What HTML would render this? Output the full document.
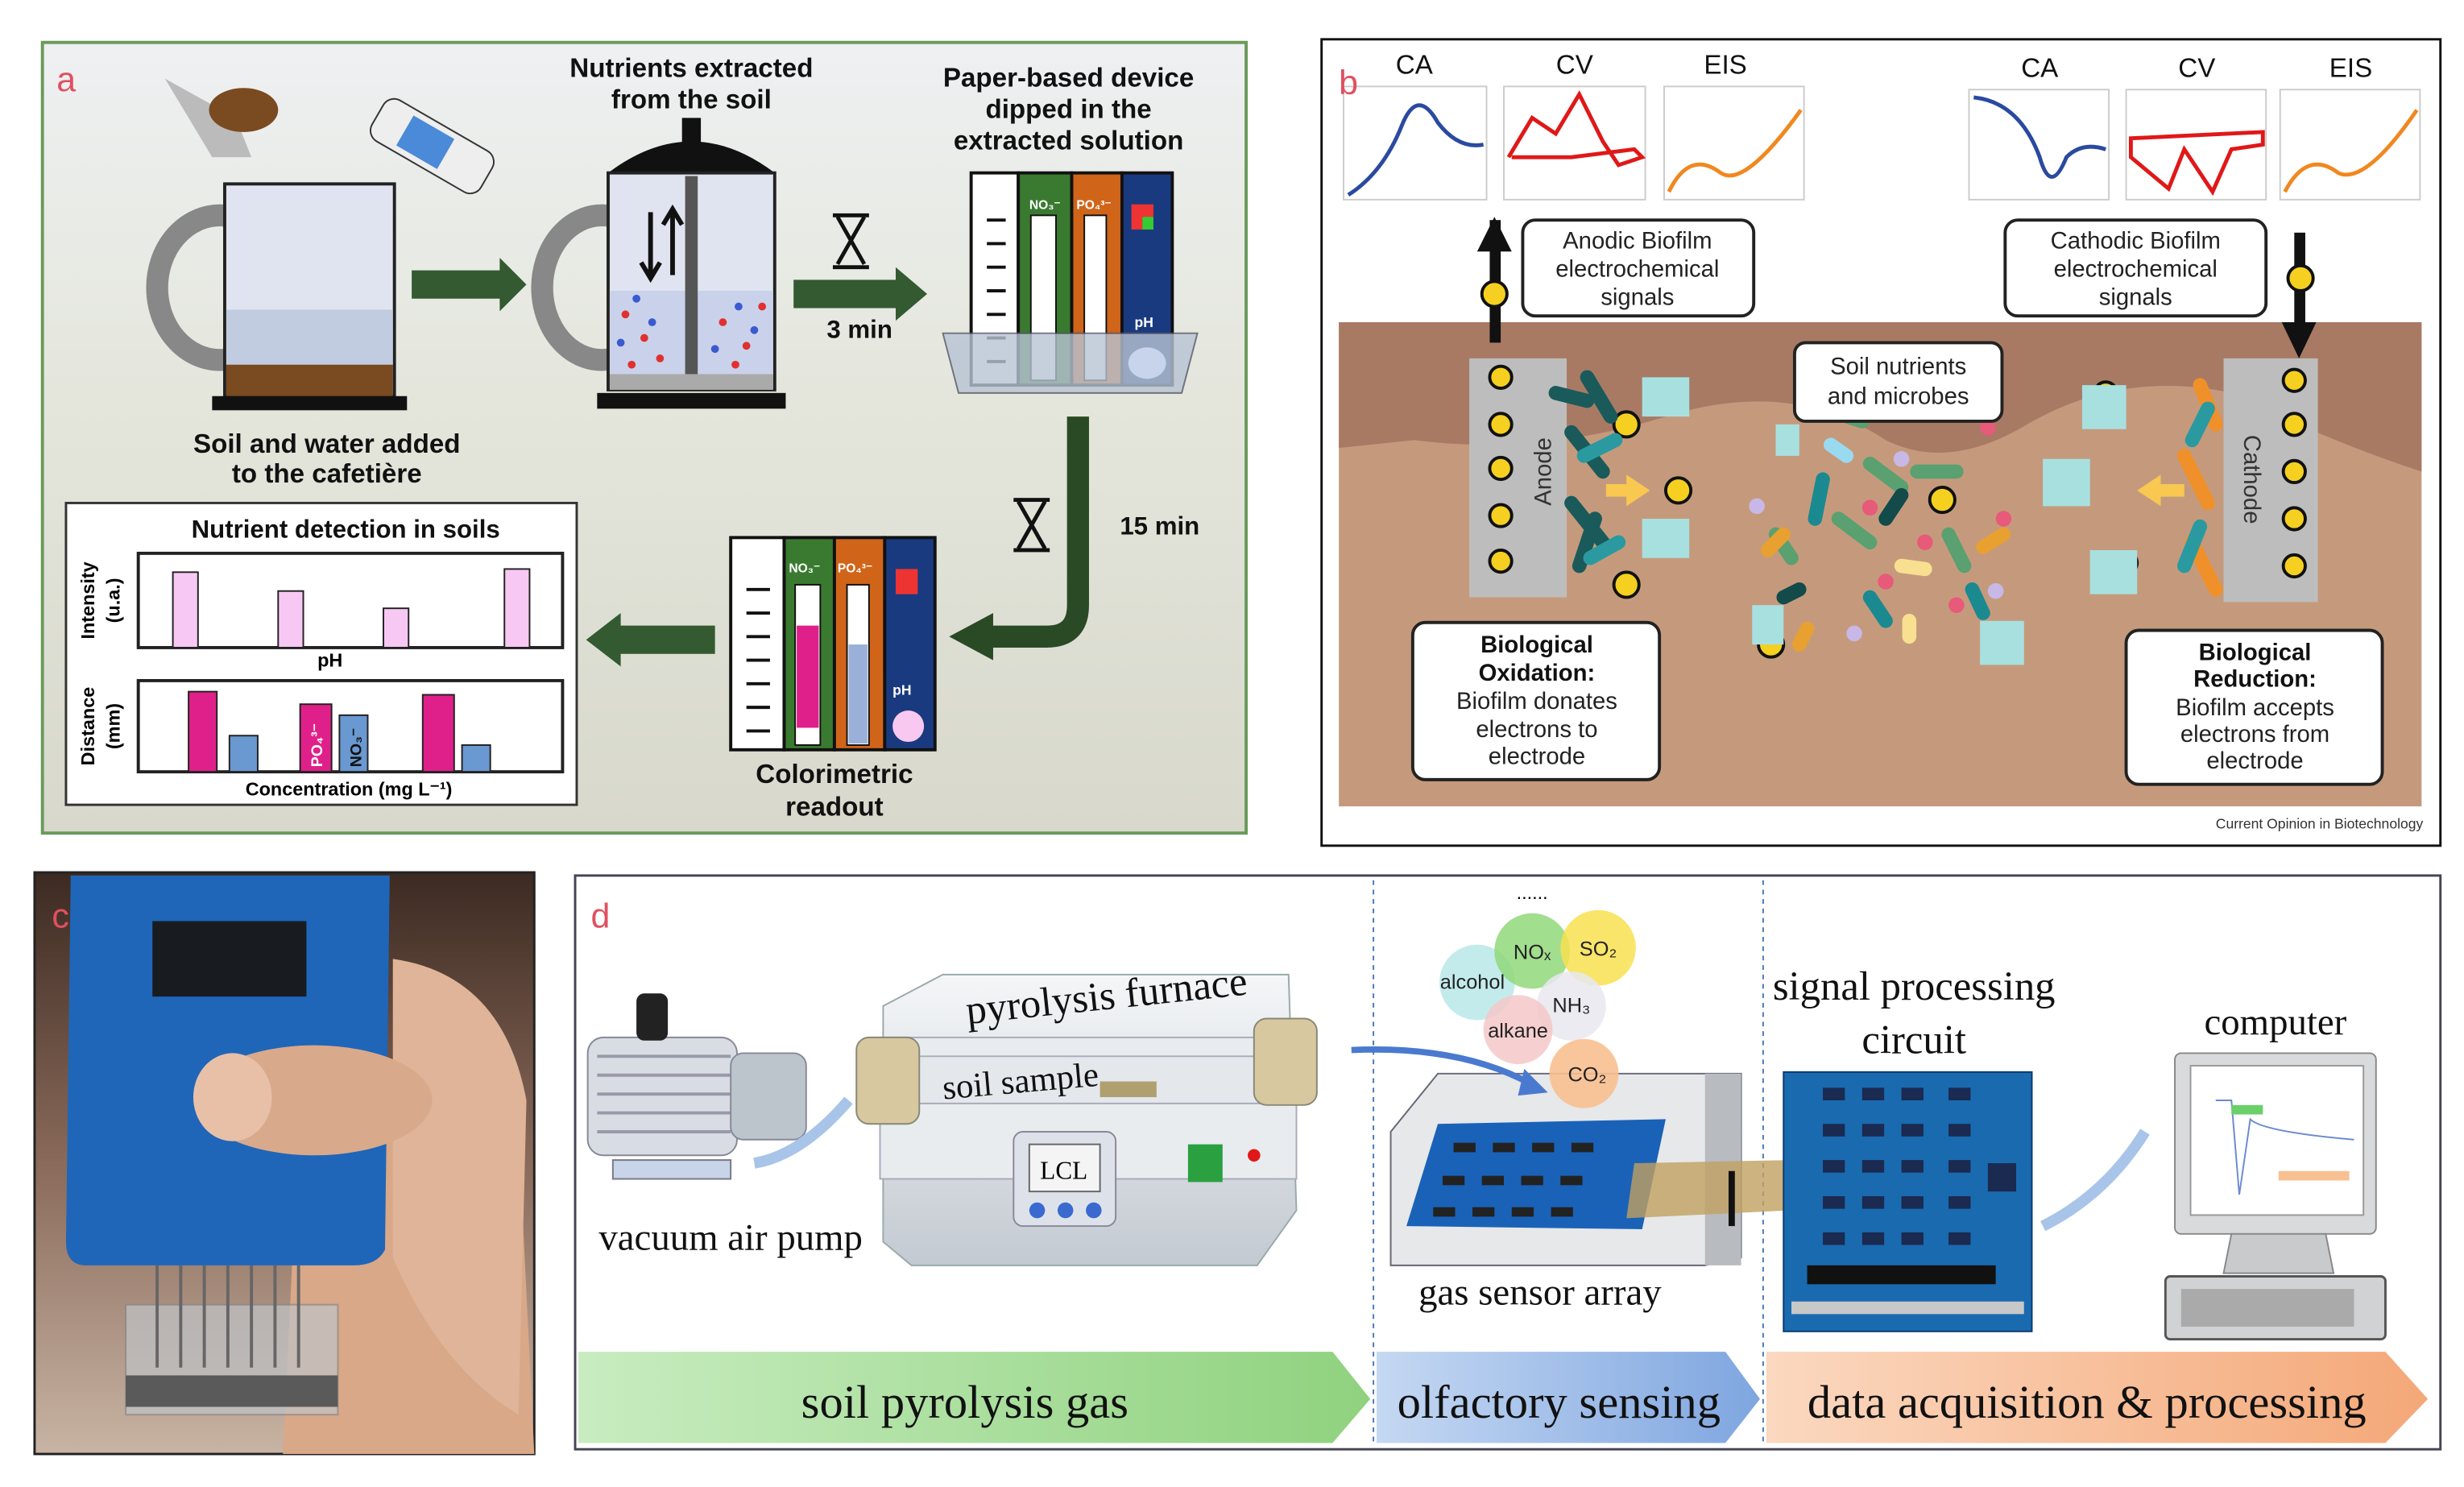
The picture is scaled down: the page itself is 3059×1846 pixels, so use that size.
<!DOCTYPE html>
<html><head><meta charset="utf-8"><style>
html,body{margin:0;padding:0;background:#fff;width:3059px;height:1846px;overflow:hidden}
svg{display:block}
text{font-family:"Liberation Sans",sans-serif}
.serif{font-family:"Liberation Serif",serif}
</style></head><body>
<svg width="3059" height="1846" viewBox="0 0 1568 946" preserveAspectRatio="none" xmlns="http://www.w3.org/2000/svg">
<defs>
<linearGradient id="gA" x1="0" y1="0" x2="0" y2="1"><stop offset="0" stop-color="#eef0f2"/><stop offset="0.45" stop-color="#e4e6dc"/><stop offset="1" stop-color="#d8d8cc"/></linearGradient>
<linearGradient id="gG" x1="0" y1="0" x2="1" y2="0"><stop offset="0" stop-color="#c8ecc0"/><stop offset="1" stop-color="#8fd27e"/></linearGradient>
<linearGradient id="gB" x1="0" y1="0" x2="1" y2="0"><stop offset="0" stop-color="#c5d8f2"/><stop offset="1" stop-color="#7fa6e0"/></linearGradient>
<linearGradient id="gO" x1="0" y1="0" x2="1" y2="0"><stop offset="0" stop-color="#fbd8c0"/><stop offset="1" stop-color="#f4a878"/></linearGradient>
<linearGradient id="gPhoto" x1="0" y1="0" x2="0" y2="1"><stop offset="0" stop-color="#3c2a22"/><stop offset="0.5" stop-color="#8a6a5a"/><stop offset="1" stop-color="#c8b4a4"/></linearGradient>
<linearGradient id="gMetal" x1="0" y1="0" x2="0" y2="1"><stop offset="0" stop-color="#f4f6f8"/><stop offset="1" stop-color="#c4cad2"/></linearGradient>
</defs>

<!-- PANEL A -->
<rect x="27" y="27" width="766" height="503" fill="url(#gA)" stroke="#6a9a5a" stroke-width="2"/>
<text x="36" y="58" font-size="22" fill="#e05060">a</text>
<ellipse cx="140" cy="183" rx="40" ry="46" fill="none" stroke="#888" stroke-width="14"/>
<rect x="143" y="117" width="108" height="135" fill="#dfe4f0" stroke="#222" stroke-width="2"/>
<rect x="144" y="197" width="106" height="35" fill="#c2cce0"/>
<rect x="144" y="232" width="106" height="20" fill="#7a4a20"/>
<rect x="135" y="252" width="124" height="9" fill="#111"/>
<path d="M105 50 L150 75 L160 100 L135 100 Z" fill="#bbb"/><ellipse cx="155" cy="70" rx="22" ry="14" fill="#7a4a20"/>
<rect x="235" y="78" width="80" height="30" rx="8" fill="#eee" stroke="#333" transform="rotate(30 275 93)"/>
<rect x="255" y="82" width="30" height="22" fill="#4a8ad8" transform="rotate(30 275 93)"/>
<polygon points="262,172 318,172 318,164 335,181 318,198 318,190 262,190" fill="#335a30"/>
<text x="208" y="288" font-size="17" font-weight="bold" text-anchor="middle" fill="#111">Soil and water added</text>
<text x="208" y="307" font-size="17" font-weight="bold" text-anchor="middle" fill="#111">to the cafetière</text>
<ellipse cx="383" cy="183" rx="38" ry="46" fill="none" stroke="#888" stroke-width="14"/>
<path d="M387 110 Q440 70 493 110 Z" fill="#111"/><rect x="434" y="75" width="12" height="20" fill="#111"/>
<rect x="387" y="110" width="106" height="138" fill="#dfe4f0" stroke="#222" stroke-width="2"/>
<rect x="388" y="185" width="104" height="53" fill="#c9d2ea"/>
<g fill="#e03030"><circle cx="398" cy="200" r="2.5"/><circle cx="410" cy="215" r="2.5"/><circle cx="420" cy="228" r="2.5"/><circle cx="460" cy="205" r="2.5"/><circle cx="475" cy="220" r="2.5"/><circle cx="485" cy="195" r="2.5"/><circle cx="402" cy="232" r="2.5"/><circle cx="468" cy="232" r="2.5"/></g>
<g fill="#3a5ad0"><circle cx="405" cy="190" r="2.5"/><circle cx="415" cy="205" r="2.5"/><circle cx="455" cy="222" r="2.5"/><circle cx="480" cy="210" r="2.5"/><circle cx="395" cy="218" r="2.5"/><circle cx="470" cy="195" r="2.5"/></g>
<rect x="436" y="112" width="8" height="130" fill="#555"/>
<rect x="388" y="238" width="104" height="10" fill="#aaa"/>
<rect x="380" y="250" width="120" height="10" fill="#111"/>
<path d="M414 135 V175 M408 167 L414 177 L420 167 M428 175 V135 M422 143 L428 133 L434 143" stroke="#111" stroke-width="3" fill="none"/>
<text x="440" y="49" font-size="17" font-weight="bold" text-anchor="middle" fill="#111">Nutrients extracted</text>
<text x="440" y="69" font-size="17" font-weight="bold" text-anchor="middle" fill="#111">from the soil</text>
<polygon points="505,178 570,178 570,170 590,187 570,204 570,196 505,196" fill="#335a30"/>
<path d="M530 137 H553 M530 170 H553 M533 138 L550 168 M550 138 L533 168" stroke="#111" stroke-width="2.5" fill="none"/>
<text x="547" y="215" font-size="16" font-weight="bold" text-anchor="middle" fill="#111">3 min</text>
<text x="680" y="55" font-size="17" font-weight="bold" text-anchor="middle" fill="#111">Paper-based device</text>
<text x="680" y="75" font-size="17" font-weight="bold" text-anchor="middle" fill="#111">dipped in the</text>
<text x="680" y="95" font-size="17" font-weight="bold" text-anchor="middle" fill="#111">extracted solution</text>
<g>
<rect x="618" y="110" width="30" height="135" fill="#fff" stroke="#111" stroke-width="2"/>
<rect x="648" y="110" width="34" height="135" fill="#3a7a30" stroke="#111" stroke-width="2"/>
<rect x="682" y="110" width="32" height="135" fill="#d0651a" stroke="#111" stroke-width="2"/>
<rect x="714" y="110" width="32" height="135" fill="#1a3a80" stroke="#111" stroke-width="2"/>
<rect x="656" y="137" width="16" height="105" fill="#fff" stroke="#111"/><rect x="690" y="137" width="14" height="105" fill="#fff" stroke="#111"/>
<text x="655" y="133" font-size="8" fill="#fff" font-weight="bold">NO₃⁻</text><text x="685" y="133" font-size="8" fill="#fff" font-weight="bold">PO₄³⁻</text>
<text x="722" y="208" font-size="9" fill="#fff" font-weight="bold">pH</text>
<rect x="720" y="130" width="14" height="16" fill="#e33"/><rect x="727" y="138" width="7" height="8" fill="#3c3"/>
<path d="M628 140 H640 M628 155 H640 M628 170 H640 M628 185 H640 M628 200 H640 M628 215 H640 M628 230 H640" stroke="#111" stroke-width="2"/>
<path d="M600 212 H762 L752 250 H610 Z" fill="#b8c4d4" opacity="0.8" stroke="#556"/>
<ellipse cx="730" cy="231" rx="12" ry="10" fill="#c8d4ec"/>
</g>
<path d="M686 265 V385 Q686 405 666 405 H630" stroke="#2a4a25" stroke-width="14" fill="none"/>
<polygon points="632,390 604,405 632,420" fill="#2a4a25"/>
<path d="M645 318 H668 M645 350 H668 M648 319 L665 349 M665 319 L648 349" stroke="#111" stroke-width="2.5" fill="none"/>
<text x="738" y="340" font-size="16" font-weight="bold" text-anchor="middle" fill="#111">15 min</text>
<g>
<rect x="465" y="342" width="34" height="135" fill="#fff" stroke="#111" stroke-width="2"/>
<rect x="499" y="342" width="32" height="135" fill="#3a7a30" stroke="#111" stroke-width="2"/>
<rect x="531" y="342" width="32" height="135" fill="#d0651a" stroke="#111" stroke-width="2"/>
<rect x="563" y="342" width="32" height="135" fill="#1a3a80" stroke="#111" stroke-width="2"/>
<rect x="506" y="372" width="16" height="102" fill="#fff" stroke="#111"/><rect x="507" y="398" width="14" height="65" fill="#e0208a"/>
<rect x="539" y="372" width="14" height="102" fill="#fff" stroke="#111"/><rect x="540" y="410" width="12" height="63" fill="#9ab0d8"/>
<text x="502" y="364" font-size="8" fill="#fff" font-weight="bold">NO₃⁻</text><text x="533" y="364" font-size="8" fill="#fff" font-weight="bold">PO₄³⁻</text>
<text x="568" y="442" font-size="9" fill="#fff" font-weight="bold">pH</text>
<circle cx="578" cy="462" r="10" fill="#f8c8f0"/>
<rect x="570" y="362" width="14" height="16" fill="#e33"/>
<path d="M475 375 H490 M475 390 H490 M475 405 H490 M475 420 H490 M475 435 H490 M475 450 H490 M475 465 H490" stroke="#111" stroke-width="2"/>
</g>
<text x="531" y="498" font-size="17" font-weight="bold" text-anchor="middle" fill="#111">Colorimetric</text>
<text x="531" y="519" font-size="17" font-weight="bold" text-anchor="middle" fill="#111">readout</text>
<polygon points="455,398 395,398 395,390 373,407 395,424 395,416 455,416" fill="#335a30"/>
<rect x="42" y="320" width="325" height="192" fill="#fff" stroke="#333" stroke-width="1.5"/>
<text x="220" y="342" font-size="16" font-weight="bold" text-anchor="middle" fill="#111">Nutrient detection in soils</text>
<rect x="88" y="352" width="270" height="60" fill="#fff" stroke="#222" stroke-width="2"/>
<g fill="#f8c8f4" stroke="#222"><rect x="110" y="364" width="16" height="48"/><rect x="177" y="376" width="16" height="36"/><rect x="244" y="387" width="16" height="25"/><rect x="321" y="362" width="16" height="50"/></g>
<text x="210" y="424" font-size="12" font-weight="bold" text-anchor="middle">pH</text>
<text transform="translate(60,382) rotate(-90)" font-size="12" font-weight="bold" text-anchor="middle">Intensity</text>
<text transform="translate(76,382) rotate(-90)" font-size="12" font-weight="bold" text-anchor="middle">(u.a.)</text>
<rect x="88" y="433" width="270" height="58" fill="#fff" stroke="#222" stroke-width="2"/>
<g stroke="#222"><rect x="120" y="440" width="18" height="51" fill="#e0208a"/><rect x="146" y="468" width="18" height="23" fill="#6a98d0"/><rect x="191" y="448" width="20" height="43" fill="#e0208a"/><rect x="216" y="455" width="18" height="36" fill="#6a98d0"/><rect x="269" y="442" width="20" height="49" fill="#e0208a"/><rect x="294" y="474" width="18" height="17" fill="#6a98d0"/></g>
<text transform="translate(205,488) rotate(-90)" font-size="10" font-weight="bold" fill="#fff">PO₄³⁻</text>
<text transform="translate(230,488) rotate(-90)" font-size="10" font-weight="bold" fill="#111">NO₃⁻</text>
<text x="222" y="506" font-size="12" font-weight="bold" text-anchor="middle">Concentration (mg L⁻¹)</text>
<text transform="translate(60,462) rotate(-90)" font-size="12" font-weight="bold" text-anchor="middle">Distance</text>
<text transform="translate(76,462) rotate(-90)" font-size="12" font-weight="bold" text-anchor="middle">(mm)</text>

<!-- PANEL B -->
<rect x="841" y="25" width="712" height="513" fill="#fff" stroke="#111" stroke-width="1.5"/>
<g font-size="17" fill="#111" text-anchor="middle">
<text x="900" y="47">CA</text><text x="1002" y="47">CV</text><text x="1098" y="47">EIS</text>
<text x="1298" y="49">CA</text><text x="1398" y="49">CV</text><text x="1496" y="49">EIS</text></g>
<g fill="#fff" stroke="#ccc"><rect x="855" y="55" width="91" height="72"/><rect x="957" y="55" width="90" height="72"/><rect x="1059" y="55" width="89" height="72"/><rect x="1253" y="57" width="89" height="70"/><rect x="1353" y="57" width="89" height="70"/><rect x="1451" y="57" width="89" height="70"/></g>
<text x="852" y="60" font-size="22" fill="#e05060">b</text>
<path d="M858 124 Q880 110 892 80 Q902 55 915 78 Q928 95 944 92" stroke="#2a4aa0" stroke-width="2.5" fill="none"/>
<path d="M960 100 L975 75 L990 85 L1005 60 L1020 90 L1030 105 L1045 100 L1040 95 L1000 100 L962 100" stroke="#e01818" stroke-width="2.5" fill="none"/>
<path d="M1062 122 Q1075 95 1095 110 Q1110 120 1146 70" stroke="#f08820" stroke-width="2.5" fill="none"/>
<path d="M1256 62 Q1285 65 1298 100 Q1305 125 1315 100 Q1325 90 1340 95" stroke="#2a4aa0" stroke-width="2.5" fill="none"/>
<path d="M1356 88 L1440 84 L1440 92 L1420 95 L1408 122 L1390 95 L1380 120 L1356 100 Z" stroke="#e01818" stroke-width="2.5" fill="none"/>
<path d="M1454 122 Q1468 95 1488 110 Q1505 118 1538 70" stroke="#f08820" stroke-width="2.5" fill="none"/>
<rect x="969" y="140" width="147" height="61" rx="8" fill="#fff" stroke="#222" stroke-width="2"/>
<text x="1042" y="158" font-size="15" text-anchor="middle" fill="#222">Anodic Biofilm</text><text x="1042" y="176" font-size="15" text-anchor="middle" fill="#222">electrochemical</text><text x="1042" y="194" font-size="15" text-anchor="middle" fill="#222">signals</text>
<rect x="1276" y="140" width="166" height="61" rx="8" fill="#fff" stroke="#222" stroke-width="2"/>
<text x="1359" y="158" font-size="15" text-anchor="middle" fill="#222">Cathodic Biofilm</text><text x="1359" y="176" font-size="15" text-anchor="middle" fill="#222">electrochemical</text><text x="1359" y="194" font-size="15" text-anchor="middle" fill="#222">signals</text>
<rect x="852" y="205" width="689" height="308" fill="#c59a7c"/>
<path d="M852 205 H1541 V300 Q1480 280 1420 250 Q1350 235 1290 270 Q1240 300 1200 280 Q1140 240 1060 265 Q980 290 900 280 L852 285 Z" fill="#a87a64"/>
<rect x="948" y="140" width="7" height="78" fill="#111"/><polygon points="940,160 951,138 962,160" fill="#111"/>
<rect x="1460" y="148" width="7" height="72" fill="#111"/><polygon points="1452,205 1463,228 1474,205" fill="#111"/>
<circle cx="951" cy="187" r="8" fill="#f5d020" stroke="#111" stroke-width="2"/><circle cx="1464" cy="177" r="8" fill="#f5d020" stroke="#111" stroke-width="2"/>
<rect x="935" y="228" width="62" height="152" fill="#bdbdbd"/>
<text transform="translate(987,300) rotate(-90)" font-size="15" text-anchor="middle" fill="#333">Anode</text>
<rect x="1415" y="228" width="60" height="155" fill="#bdbdbd"/>
<text transform="translate(1428,305) rotate(90)" font-size="15" text-anchor="middle" fill="#333">Cathode</text>
<g fill="#f5d020" stroke="#111" stroke-width="2">
<circle cx="955" cy="240" r="7"/><circle cx="955" cy="270" r="7"/><circle cx="955" cy="298" r="7"/><circle cx="955" cy="328" r="7"/><circle cx="955" cy="357" r="7"/>
<circle cx="1035" cy="270" r="8"/><circle cx="1068" cy="312" r="8"/><circle cx="1035" cy="372" r="8"/>
<circle cx="1460" cy="242" r="7"/><circle cx="1460" cy="270" r="7"/><circle cx="1460" cy="300" r="7"/><circle cx="1460" cy="330" r="7"/><circle cx="1460" cy="360" r="7"/>
<circle cx="1340" cy="250" r="7"/><circle cx="1317" cy="303" r="7"/><circle cx="1353" cy="358" r="7"/><circle cx="1236" cy="318" r="8"/><circle cx="1127" cy="410" r="8"/></g>
<g stroke-linecap="round" stroke-width="9">
<path d="M1010 240 L1025 265 M1000 275 L1020 300 M1015 330 L1005 360 M990 250 L1010 255 M1000 320 L1020 345" stroke="#1a5a5a"/>
<path d="M1008 290 L1028 280 M1012 355 L1030 345" stroke="#2a9aa0"/>
<path d="M1400 245 L1410 270 M1390 290 L1405 320 M1395 345 L1410 375" stroke="#f0902a"/>
<path d="M1405 260 L1395 280 M1400 335 L1390 360" stroke="#2a9aa0"/>
<path d="M1160 260 L1185 268 M1190 295 L1210 310 M1130 340 L1140 355 M1170 330 L1190 345 M1240 340 L1250 360 M1220 300 L1245 300" stroke="#5aa070"/>
<path d="M1135 380 L1145 375 M1210 315 L1200 330" stroke="#134a4a"/>
<path d="M1160 305 L1155 330 M1190 380 L1200 395 M1255 375 L1262 390" stroke="#1a8a90"/>
<path d="M1125 350 L1135 340 M1150 400 L1145 410 M1262 348 L1275 340" stroke="#e8a030"/>
<path d="M1165 283 L1175 290" stroke="#9adaf0"/><path d="M1210 360 L1225 362 M1215 395 L1215 405" stroke="#f8e090"/>
</g>
<g fill="#a8e0e0"><path d="M1045 240 h30 v25 h-30 z"/><path d="M1045 330 h30 v25 h-30 z"/><path d="M1130 270 h15 v20 h-15z"/><path d="M1325 245 h28 v28 h-28z"/><path d="M1300 292 h30 v30 h-30z"/><path d="M1330 350 h30 v28 h-30z"/><path d="M1260 395 h28 v28 h-28z"/><path d="M1115 385 h20 v25 h-20z"/></g>
<g fill="#e85a7a"><circle cx="1265" cy="272" r="5"/><circle cx="1190" cy="323" r="5"/><circle cx="1275" cy="330" r="5"/><circle cx="1225" cy="345" r="5"/><circle cx="1200" cy="370" r="5"/><circle cx="1245" cy="385" r="5"/></g>
<g fill="#c8b8e8"><circle cx="1210" cy="292" r="5"/><circle cx="1118" cy="322" r="5"/><circle cx="1180" cy="403" r="5"/><circle cx="1270" cy="376" r="5"/></g>
<polygon points="1050,312 1035,302 1035,308 1022,308 1022,316 1035,316 1035,322" fill="#f8c850"/>
<polygon points="1360,312 1375,302 1375,308 1390,308 1390,316 1375,316 1375,322" fill="#f8c850"/>
<rect x="1142" y="218" width="132" height="50" rx="7" fill="#fff" stroke="#222" stroke-width="2"/>
<text x="1208" y="238" font-size="15" text-anchor="middle" fill="#222">Soil nutrients</text><text x="1208" y="257" font-size="15" text-anchor="middle" fill="#222">and microbes</text>
<rect x="899" y="396" width="157" height="100" rx="8" fill="#fff" stroke="#222" stroke-width="2"/>
<text x="978" y="415" font-size="15" font-weight="bold" text-anchor="middle" fill="#111">Biological</text><text x="978" y="433" font-size="15" font-weight="bold" text-anchor="middle" fill="#111">Oxidation:</text>
<text x="978" y="451" font-size="15" text-anchor="middle" fill="#222">Biofilm donates</text><text x="978" y="469" font-size="15" text-anchor="middle" fill="#222">electrons to</text><text x="978" y="486" font-size="15" text-anchor="middle" fill="#222">electrode</text>
<rect x="1353" y="401" width="163" height="98" rx="8" fill="#fff" stroke="#222" stroke-width="2"/>
<text x="1435" y="420" font-size="15" font-weight="bold" text-anchor="middle" fill="#111">Biological</text><text x="1435" y="437" font-size="15" font-weight="bold" text-anchor="middle" fill="#111">Reduction:</text>
<text x="1435" y="455" font-size="15" text-anchor="middle" fill="#222">Biofilm accepts</text><text x="1435" y="472" font-size="15" text-anchor="middle" fill="#222">electrons from</text><text x="1435" y="489" font-size="15" text-anchor="middle" fill="#222">electrode</text>
<text x="1542" y="527" font-size="9" text-anchor="end" fill="#333">Current Opinion in Biotechnology</text>

<!-- PANEL C -->
<rect x="22" y="555" width="318" height="370" fill="url(#gPhoto)" stroke="#222" stroke-width="1.5"/>
<path d="M190 720 Q260 640 330 720 L340 925 H180 Z" fill="#d8a888"/>
<path d="M250 610 Q320 620 335 700 L330 900 Q280 870 250 800 Z" fill="#e0b498"/>
<path d="M45 557 H248 L245 795 Q240 805 225 805 H55 Q42 805 42 790 Z" fill="#1f66b8"/>
<rect x="97" y="586" width="98" height="48" fill="#181c20"/>
<ellipse cx="200" cy="700" rx="75" ry="35" fill="#d9a98c"/><ellipse cx="148" cy="698" rx="25" ry="28" fill="#e8c0a8"/>
<rect x="80" y="830" width="135" height="70" fill="#c0c4c8" opacity="0.7" stroke="#888"/>
<path d="M100 805 V870 M115 805 V870 M130 805 V870 M145 805 V870 M160 805 V870 M175 805 V870 M190 805 V870" stroke="#666" stroke-width="2"/>
<rect x="80" y="875" width="135" height="20" fill="#5a5a5a"/>
<text x="33" y="590" font-size="22" fill="#e05060">c</text>

<!-- PANEL D -->
<rect x="366" y="557" width="1187" height="365" fill="#fff" stroke="#445" stroke-width="1.5"/>
<text x="376" y="590" font-size="22" fill="#e05060">d</text>
<line x1="874" y1="560" x2="874" y2="920" stroke="#4a7ab8" stroke-dasharray="3,3"/>
<line x1="1122" y1="560" x2="1122" y2="920" stroke="#4a7ab8" stroke-dasharray="3,3"/>
<rect x="374" y="660" width="95" height="75" rx="10" fill="#d8dde4" stroke="#889"/>
<g stroke="#99a" stroke-width="2"><line x1="380" y1="672" x2="465" y2="672"/><line x1="380" y1="684" x2="465" y2="684"/><line x1="380" y1="696" x2="465" y2="696"/><line x1="380" y1="708" x2="465" y2="708"/><line x1="380" y1="720" x2="465" y2="720"/></g>
<rect x="465" y="670" width="48" height="55" rx="8" fill="#bcc4cc" stroke="#889"/>
<rect x="405" y="632" width="20" height="30" rx="5" fill="#222"/>
<rect x="390" y="738" width="75" height="12" fill="#c8d4e8" stroke="#778"/>
<path d="M480 740 Q510 735 540 700" stroke="#a8c4e8" stroke-width="7" fill="none"/>
<text x="465" y="795" class="serif" font-size="24" text-anchor="middle" fill="#111">vacuum air pump</text>
<path d="M562 640 L600 620 L820 620 L825 770 L800 805 H580 L562 790 Z" fill="url(#gMetal)" stroke="#9aa"/>
<rect x="560" y="660" width="265" height="90" fill="#e8ecef" stroke="#aab"/>
<rect x="570" y="672" width="265" height="30" rx="14" fill="#e4e8ec" stroke="#aab"/>
<rect x="545" y="660" width="40" height="55" rx="8" fill="#d8c8a0" stroke="#887"/>
<rect x="798" y="648" width="40" height="55" rx="8" fill="#d8c8a0" stroke="#887"/>
<rect x="700" y="688" width="36" height="10" fill="#b0a070"/>
<text x="705" y="642" class="serif" font-size="26" text-anchor="middle" fill="#111" transform="rotate(-6 705 642)">pyrolysis furnace</text>
<text x="650" y="695" class="serif" font-size="22" text-anchor="middle" fill="#111" transform="rotate(-5 650 695)">soil sample</text>
<rect x="645" y="720" width="65" height="60" rx="6" fill="#dde2ea" stroke="#889"/>
<rect x="655" y="728" width="45" height="30" fill="#f4f4f4" stroke="#666"/>
<text x="677" y="750" class="serif" font-size="16" text-anchor="middle">LCL</text>
<circle cx="660" cy="770" r="5" fill="#3a6ad0"/><circle cx="678" cy="770" r="5" fill="#3a6ad0"/><circle cx="696" cy="770" r="5" fill="#3a6ad0"/>
<rect x="756" y="728" width="22" height="24" fill="#2aa040"/><circle cx="798" cy="735" r="4" fill="#e01818"/>
<path d="M885 720 L915 683 H1108 L1108 800 L1085 805 H885 Z" fill="#e6e8ea" stroke="#667"/>
<rect x="1085" y="683" width="23" height="122" fill="#b8bcc0"/>
<path d="M895 780 L915 715 L1060 712 L1045 782 Z" fill="#1a62b8"/>
<g fill="#222"><rect x="925" y="727" width="14" height="6"/><rect x="950" y="727" width="14" height="6"/><rect x="975" y="727" width="14" height="6"/><rect x="1000" y="727" width="14" height="6"/><rect x="918" y="748" width="14" height="6"/><rect x="943" y="748" width="14" height="6"/><rect x="968" y="748" width="14" height="6"/><rect x="993" y="748" width="14" height="6"/><rect x="912" y="768" width="14" height="6"/><rect x="937" y="768" width="14" height="6"/><rect x="962" y="768" width="14" height="6"/><rect x="987" y="768" width="14" height="6"/></g>
<path d="M1040 740 L1140 738 L1140 770 L1035 775 Z" fill="#c0a060" opacity="0.8"/>
<rect x="1100" y="745" width="4" height="35" fill="#111"/>
<path d="M860 668 Q930 665 975 690" stroke="#4a7ad0" stroke-width="4" fill="none"/><polygon points="970,680 985,695 966,697" fill="#4a7ad0"/>
<text x="975" y="572" font-size="12" text-anchor="middle">......</text>
<circle cx="940" cy="625" r="24" fill="#b8e8e8" opacity="0.85"/><circle cx="975" cy="605" r="24" fill="#90d87a" opacity="0.85"/><circle cx="1017" cy="603" r="24" fill="#f8e050" opacity="0.85"/>
<circle cx="1000" cy="640" r="22" fill="#e8e8ee" opacity="0.85"/><circle cx="966" cy="655" r="22" fill="#f4c8c8" opacity="0.85"/><circle cx="1008" cy="683" r="22" fill="#f8c090" opacity="0.9"/>
<g class="serif" font-size="13" text-anchor="middle" fill="#222"><text x="937" y="629">alcohol</text><text x="975" y="610">NOₓ</text><text x="1017" y="608">SO₂</text><text x="1000" y="644">NH₃</text><text x="966" y="660">alkane</text><text x="1010" y="688">CO₂</text></g>
<text x="980" y="830" class="serif" font-size="24" text-anchor="middle" fill="#111">gas sensor array</text>
<text x="1218" y="636" class="serif" font-size="26" text-anchor="middle" fill="#111">signal processing</text>
<text x="1218" y="670" class="serif" font-size="26" text-anchor="middle" fill="#111">circuit</text>
<rect x="1135" y="682" width="158" height="165" fill="#1a6ab0" stroke="#0a3a70"/>
<g fill="#1a2a50">
<rect x="1160" y="692" width="14" height="8"/><rect x="1185" y="692" width="14" height="8"/><rect x="1210" y="692" width="14" height="8"/><rect x="1240" y="692" width="14" height="8"/>
<rect x="1160" y="715" width="14" height="8"/><rect x="1185" y="715" width="14" height="8"/><rect x="1210" y="715" width="14" height="8"/><rect x="1240" y="715" width="14" height="8"/>
<rect x="1160" y="738" width="14" height="8"/><rect x="1185" y="738" width="14" height="8"/><rect x="1210" y="738" width="14" height="8"/><rect x="1240" y="738" width="14" height="8"/>
<rect x="1160" y="761" width="14" height="8"/><rect x="1185" y="761" width="14" height="8"/><rect x="1210" y="761" width="14" height="8"/><rect x="1240" y="761" width="14" height="8"/>
<rect x="1160" y="784" width="14" height="8"/><rect x="1185" y="784" width="14" height="8"/><rect x="1210" y="784" width="14" height="8"/><rect x="1240" y="784" width="14" height="8"/>
<rect x="1265" y="740" width="18" height="18"/></g>
<g fill="#111"><rect x="1150" y="805" width="120" height="12"/></g>
<g fill="#c8c8c8"><rect x="1140" y="828" width="148" height="8"/></g>
<path d="M1300 780 Q1340 760 1365 720" stroke="#a8c4e8" stroke-width="7" fill="none"/>
<text x="1448" y="658" class="serif" font-size="24" text-anchor="middle" fill="#111">computer</text>
<rect x="1384" y="670" width="128" height="115" rx="4" fill="#d8dadc" stroke="#888"/>
<rect x="1394" y="678" width="110" height="95" fill="#fff" stroke="#999"/>
<path d="M1410 700 L1420 700 L1425 760 L1432 712 Q1440 720 1498 725" stroke="#6a8ad0" fill="none"/>
<rect x="1420" y="703" width="20" height="6" fill="#6ad06a"/><rect x="1450" y="745" width="45" height="6" fill="#f8c090"/>
<path d="M1420 785 H1480 L1485 810 H1415 Z" fill="#c8cacc" stroke="#888"/>
<rect x="1378" y="812" width="140" height="40" rx="3" fill="#d0d2d4" stroke="#555" stroke-width="1.5"/>
<rect x="1388" y="820" width="110" height="24" fill="#aaa"/>
<polygon points="368,860 848,860 872,890 848,918 368,918" fill="url(#gG)"/>
<polygon points="876,860 1098,860 1120,890 1098,918 876,918" fill="url(#gB)"/>
<polygon points="1124,860 1518,860 1545,890 1518,918 1124,918" fill="url(#gO)"/>
<text x="614" y="902" class="serif" font-size="30" text-anchor="middle" fill="#111">soil pyrolysis gas</text>
<text x="992" y="902" class="serif" font-size="30" text-anchor="middle" fill="#111">olfactory sensing</text>
<text x="1328" y="902" class="serif" font-size="30" text-anchor="middle" fill="#111">data acquisition &amp; processing</text>
</svg>
</body></html>
